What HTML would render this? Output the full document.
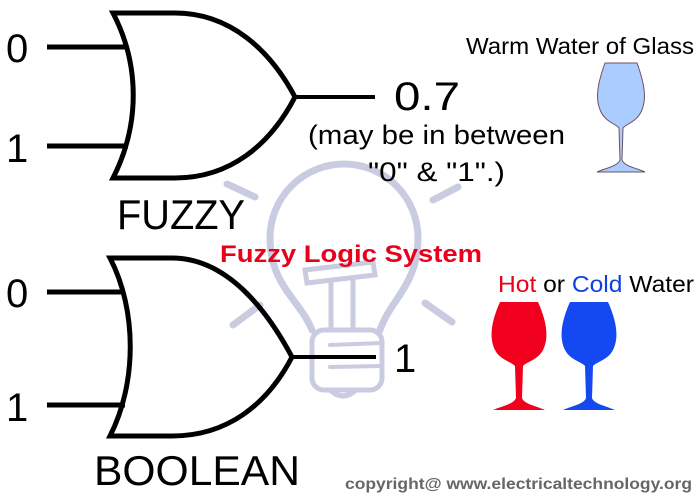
<!DOCTYPE html>
<html><head><style>
body{margin:0;background:#fff;}
svg{display:block;}
text{font-family:"Liberation Sans",sans-serif;}
</style></head><body>
<svg width="700" height="495" viewBox="0 0 700 495" xmlns="http://www.w3.org/2000/svg">
<g stroke="#c9cbe0" stroke-width="7" fill="none" stroke-linecap="round">
<path d="M312,330 C300,300 270,285 270,238 A74,74 0 1 1 418,238 C418,285 390,300 380,330"/>
<path d="M305,270 L373,262 L375,275 L307,283 Z" stroke-width="5"/>
<line x1="331" y1="283" x2="331" y2="330" stroke-width="5"/>
<line x1="353" y1="280" x2="353" y2="328" stroke-width="5"/>
<rect x="312" y="330" width="70" height="60" rx="12" stroke-width="5"/>
<line x1="330" y1="345" x2="382" y2="343" stroke-width="4"/>
<line x1="330" y1="367" x2="382" y2="366" stroke-width="4"/>
<path d="M330,390 Q343,402 356,390" stroke-width="5"/>
<line x1="227" y1="184" x2="255" y2="197"/>
<line x1="433" y1="200" x2="458" y2="187"/>
<line x1="233" y1="325" x2="260" y2="305"/>
<line x1="425" y1="303" x2="452" y2="322"/>
</g>
<g stroke="#000" stroke-width="5" fill="none">
<path d="M113,13 L175,13 C230,13 270,50 295,97 C270,145 230,178 175,178 L113,178 C140,125 140,65 113,13 Z"/>
<line x1="47" y1="47" x2="128" y2="47"/>
<line x1="47" y1="146" x2="128" y2="146"/>
<line x1="295" y1="97" x2="375" y2="97" stroke-width="4"/>
<path d="M110,258 L172,258 C227,258 267,310 292,357 C267,405 227,436 172,436 L110,436 C137,383 137,310 110,258 Z"/>
<line x1="47" y1="292" x2="125" y2="292"/>
<line x1="47" y1="405" x2="125" y2="405"/>
<line x1="292" y1="357" x2="376" y2="357" stroke-width="4"/>
</g>
<g font-size="40" fill="#000">
<text x="6" y="62">0</text>
<text x="6" y="162">1</text>
<text x="6" y="307">0</text>
<text x="6" y="421">1</text>
<text x="117" y="229" font-size="42" textLength="128" lengthAdjust="spacingAndGlyphs">FUZZY</text>
<text x="94" y="485" font-size="42" textLength="206" lengthAdjust="spacingAndGlyphs">BOOLEAN</text>
<text x="394" y="110" font-size="40" textLength="66" lengthAdjust="spacingAndGlyphs">0.7</text>
<text x="394" y="372" font-size="40">1</text>
</g>
<g font-size="27" fill="#000">
<text x="308" y="144" textLength="257" lengthAdjust="spacingAndGlyphs">(may be in between</text>
<text x="368" y="181" textLength="137" lengthAdjust="spacingAndGlyphs">"0" &amp; "1".)</text>
<text x="466" y="54" font-size="23" textLength="228" lengthAdjust="spacingAndGlyphs">Warm Water of Glass</text>
<text x="498" y="292" font-size="23" textLength="196" lengthAdjust="spacingAndGlyphs"><tspan fill="#e8001c">Hot</tspan> or <tspan fill="#1040e0">Cold</tspan> Water</text>
</g>
<text x="220" y="262" font-size="24" font-weight="bold" fill="#e8001c" textLength="262" lengthAdjust="spacingAndGlyphs">Fuzzy Logic System</text>
<text x="345" y="489" font-size="16" font-weight="bold" fill="#666" textLength="347" lengthAdjust="spacingAndGlyphs">copyright@ www.electricaltechnology.org</text>
<path d="M605,63 L637,63 C645,85 647,100 641,112 C636,122 626,124 623,128 L622,160 C624,166 636,168 645,172 L597,172 C606,168 618,166 620,160 L619,128 C616,124 606,122 601,112 C595,100 597,85 605,63 Z" fill="#aaccff" stroke="#705060" stroke-width="1"/>
<path d="M500,302 L538,302 C547,322 549,338 543,350 C538,360 526,362 523,366 L522,398 C524,404 536,406 545,410 L493,410 C502,406 514,404 516,398 L515,366 C512,362 500,360 495,350 C489,338 491,322 500,302 Z" fill="#f0001c"/>
<path d="M570,302 L608,302 C617,322 619,338 613,350 C608,360 596,362 593,366 L592,398 C594,404 606,406 615,410 L563,410 C572,406 584,404 586,398 L585,366 C582,362 570,360 565,350 C559,338 561,322 570,302 Z" fill="#1448f0"/>
</svg>
</body></html>
